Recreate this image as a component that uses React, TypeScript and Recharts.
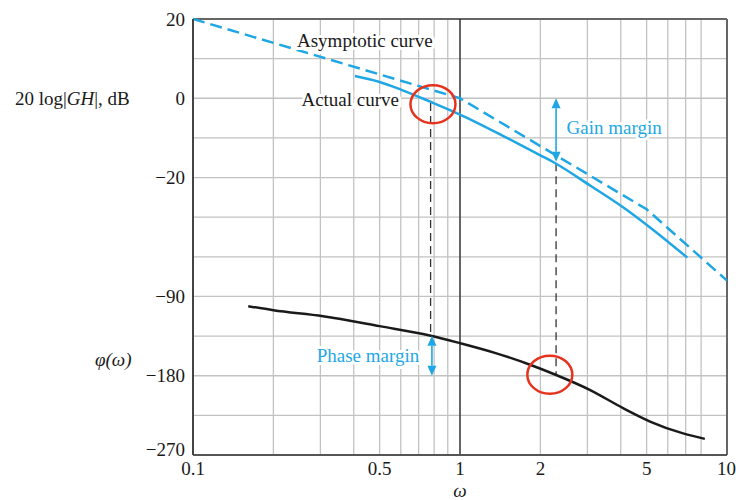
import React from "react";
import {
  LineChart,
  Line,
  XAxis,
  YAxis,
  CartesianGrid,
  ReferenceLine,
  ReferenceDot,
} from "recharts";

const BLUE = "#1ea7e4";
const RED = "#e5331d";
const INK = "#1a1a1a";
const SERIF = '"Liberation Serif", "Times New Roman", serif';

// x ticks (log grid) and which of them get a label
const freqTicks = [0.1, 0.2, 0.3, 0.4, 0.5, 0.6, 0.7, 0.8, 0.9, 1, 2, 3, 4, 5, 6, 7, 8, 9, 10];
const freqLabels = [0.1, 0.5, 1, 2, 5, 10];

// horizontal grid rows in dB units; gain and phase labels shown on the left
const gridRows = [20, 10, 0, -10, -20, -30, -40, -50, -60, -70, -80, -90];
const gainLabels = [20, 0, -20];
const phaseLabels = [-90, -180, -270];

// asymptotic magnitude (dB)
const asymW = [0.1, 1, 5, 10];
const asymDb = [20, 0, -28, -46];

// actual magnitude (dB)
const actualW = [0.404, 0.5, 0.6, 0.77, 1, 1.5, 2, 2.25, 3.07, 4.08, 5.15, 7.1];
const actualDb = [5.6, 4.1, 2.2, -0.8, -4.1, -10.0, -14.4, -16.2, -22.0, -27.5, -32.6, -40.2];

// phase (deg)
const phaseW = [0.161, 0.2, 0.307, 0.5, 0.77, 1, 1.35, 1.83, 2.28, 3.06, 4.08, 5.15, 6.8, 8.26];
const phaseDeg = [-101, -105.6, -112.4, -123.7, -134.3, -143, -154, -167.5, -178.9, -196, -216.8, -232, -245.2, -251.7];

const toRows = (w: number[], v: number[]) => w.map((x, i) => ({ w: x, v: v[i] }));
const asymData = toRows(asymW, asymDb);
const actualData = toRows(actualW, actualDb);
const phaseData = toRows(phaseW, phaseDeg);

// gain axis [-90, 20] and phase axis [-270, 225] share the same grid
const magToPhase = (m: number) => (m + 90) * 4.5 - 270;
const phaseToMag = (p: number) => (p + 270) / 4.5 - 90;

const num = (v: number) => (v < 0 ? "\u2212" + Math.abs(v) : String(v));

const yTick = (v: number) => {
  if (gainLabels.includes(v)) return num(v);
  const p = magToPhase(v);
  if (phaseLabels.includes(p)) return num(p);
  return "";
};

// left tick; the bottom one sits a little higher so it clears "0.1"
const YTickLabel = (p: any) => {
  const v = p.payload.value;
  const lift = v === gridRows[gridRows.length - 1] ? -6 : 0;
  return (
    <text
      x={p.x}
      y={p.y + lift}
      textAnchor="end"
      dominantBaseline="central"
      fill={INK}
      fontSize={19}
      fontFamily={SERIF}
    >
      {yTick(v)}
    </text>
  );
};

const arrowShape = (p: any) => {
  const { x1, y1, x2, y2 } = p;
  const d = y2 > y1 ? 1 : -1;
  const h = 10;
  const w = 4.5;
  return (
    <g>
      <line x1={x1} y1={y1 + d * h} x2={x2} y2={y2 - d * h} stroke={BLUE} strokeWidth={1.6} />
      <polygon points={`${x1},${y1} ${x1 - w},${y1 + d * h} ${x1 + w},${y1 + d * h}`} fill={BLUE} />
      <polygon points={`${x2},${y2} ${x2 - w},${y2 - d * h} ${x2 + w},${y2 - d * h}`} fill={BLUE} />
    </g>
  );
};

const ring = (p: any) => (
  <ellipse cx={p.cx} cy={p.cy} rx={22.5} ry={19} fill="none" stroke={RED} strokeWidth={2.5} />
);

const note = (text: string, color: string) => (p: any) => (
  <text
    x={p.cx}
    y={p.cy}
    textAnchor="middle"
    dominantBaseline="central"
    fill={color}
    fontSize={19}
    fontFamily={SERIF}
    stroke="#fff"
    strokeWidth={6}
    paintOrder="stroke"
  >
    {text}
  </text>
);

export default function App() {
  return (
    <div style={{ position: "absolute", left: 0, top: 0, width: 736, height: 500, background: "#fff" }}>
      <LineChart width={736} height={500} margin={{ top: 19, right: 9, bottom: 0, left: 0 }}>
        <CartesianGrid yAxisId="mag" stroke="#c2c2c2" strokeWidth={1.3} />
        <XAxis
          dataKey="w"
          type="number"
          scale="log"
          domain={[0.1, 10]}
          ticks={freqTicks}
          allowDataOverflow
          height={45}
          tickLine={false}
          tickSize={5}
          axisLine={{ stroke: "#555", strokeWidth: 2 }}
          tick={{ fill: INK, fontSize: 19, fontFamily: SERIF }}
          tickFormatter={(v: number) => (freqLabels.includes(v) ? String(v) : "")}
        />
        <YAxis
          yAxisId="mag"
          type="number"
          domain={[-90, 20]}
          ticks={gridRows}
          width={193}
          tickLine={false}
          axisLine={{ stroke: "#444", strokeWidth: 2 }}
          tick={<YTickLabel />}
        />
        <YAxis yAxisId="phase" type="number" domain={[-270, 225]} hide />

        <ReferenceLine yAxisId="mag" y={20} stroke="#666" strokeWidth={2} />
        <ReferenceLine yAxisId="mag" x={10} stroke="#666" strokeWidth={2} />
        <ReferenceLine yAxisId="mag" x={1} stroke={INK} strokeWidth={1.2} />

        <ReferenceLine
          yAxisId="mag"
          segment={[{ x: 0.776, y: -1.2 }, { x: 0.776, y: phaseToMag(-134.3) }]}
          stroke="#333"
          strokeWidth={1.3}
          strokeDasharray="8 5"
        />
        <ReferenceLine
          yAxisId="mag"
          segment={[{ x: 2.29, y: -16.4 }, { x: 2.29, y: phaseToMag(-180) }]}
          stroke="#333"
          strokeWidth={1.3}
          strokeDasharray="8 5"
        />

        <Line
          yAxisId="mag"
          data={asymData}
          dataKey="v"
          type="linear"
          stroke={BLUE}
          strokeWidth={2.5}
          strokeDasharray="12 6"
          dot={false}
          isAnimationActive={false}
        />
        <Line
          yAxisId="mag"
          data={actualData}
          dataKey="v"
          type="monotone"
          stroke={BLUE}
          strokeWidth={2.5}
          dot={false}
          isAnimationActive={false}
        />
        <Line
          yAxisId="phase"
          data={phaseData}
          dataKey="v"
          type="monotone"
          stroke={INK}
          strokeWidth={2.5}
          dot={false}
          isAnimationActive={false}
        />

        <ReferenceLine
          yAxisId="mag"
          segment={[{ x: 2.29, y: 0 }, { x: 2.29, y: -16 }]}
          shape={arrowShape}
        />
        <ReferenceLine
          yAxisId="phase"
          segment={[{ x: 0.785, y: -134.5 }, { x: 0.785, y: -180 }]}
          shape={arrowShape}
        />

        <ReferenceDot yAxisId="mag" x={0.44} y={14.7} shape={note("Asymptotic curve", INK)} />
        <ReferenceDot yAxisId="mag" x={0.388} y={-0.2} shape={note("Actual curve", INK)} />
        <ReferenceDot yAxisId="mag" x={3.78} y={-7.3} shape={note("Gain margin", BLUE)} />
        <ReferenceDot yAxisId="phase" x={0.452} y={-157} shape={note("Phase margin", BLUE)} />

        <ReferenceDot yAxisId="mag" x={0.792} y={-1.5} shape={ring} />
        <ReferenceDot yAxisId="phase" x={2.17} y={-178.8} shape={ring} />
      </LineChart>

      <svg
        width={736}
        height={500}
        style={{ position: "absolute", left: 0, top: 0, pointerEvents: "none" }}
        fontFamily={SERIF}
        fontSize={19}
        fill={INK}
      >
        <text x={15} y={105}>
          20 log|<tspan fontStyle="italic">GH</tspan>|, dB
        </text>
        <text x={95} y={366} fontStyle="italic">
          {"\u03C6(\u03C9)"}
        </text>
        <text x={460} y={497} textAnchor="middle" fontStyle="italic">
          {"\u03C9"}
        </text>
      </svg>
    </div>
  );
}
